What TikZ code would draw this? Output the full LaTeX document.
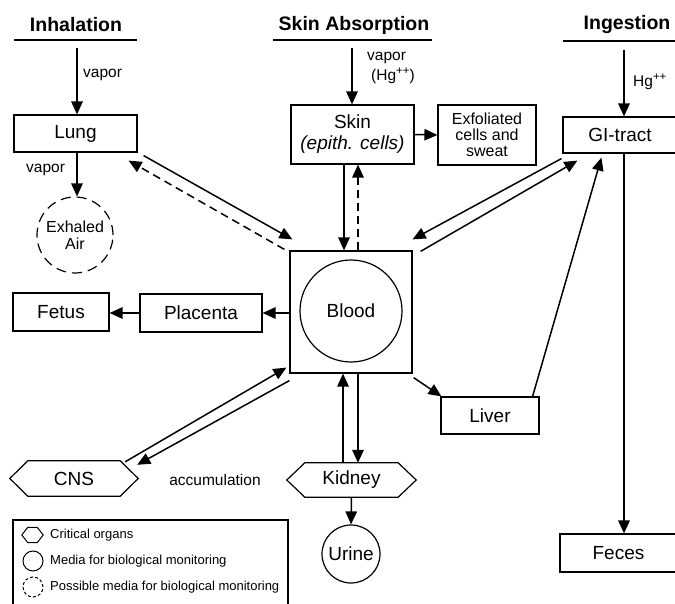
\documentclass[tikz,border=0pt]{standalone}
\usepackage{fontspec}
\setmainfont{Liberation Sans}
\usetikzlibrary{arrows.meta,calc}
\newcommand{\hgsup}{\raisebox{5.5pt}{\fontsize{11.5}{12}\selectfont ++}}
\begin{document}
\begin{tikzpicture}[x=1pt,y=-1pt,
  box/.style={draw, line width=1.2pt, inner sep=0pt, align=center, font=\fontsize{19}{21}\selectfont},
  plain/.style={inner sep=0pt, align=center, font=\fontsize{19}{21}\selectfont},
  ttl/.style={inner sep=0pt, font=\bfseries\fontsize{19.5}{22}\selectfont},
  lbl/.style={inner sep=0pt, font=\fontsize{15.5}{17}\selectfont},
  leg/.style={inner sep=0pt, anchor=west, font=\fontsize{13}{15}\selectfont},
  uline/.style={line width=1.4pt},
  outl/.style={line width=1.2pt},
  arr/.style={line width=1.5pt, -{Triangle[length=13pt,width=11.5pt]}},
  darr/.style={arr, dash pattern=on 8pt off 5pt}
]
\clip (0,0) rectangle (675,604);

% titles
\node[ttl] (tinh) at (76,25) {Inhalation};
\node[ttl] (tskin) at (354,25) {Skin Absorption};
\node[ttl] (ting) at (627,25) {Ingestion};
\draw[uline] (14,40) -- (137,40);
\draw[uline] (273,40) -- (432,40);
\draw[uline] (563,41) -- (676,41);
\coordinate (sinh) at (77,48);
\coordinate (sskin) at (352,48);
\coordinate (sing) at (624,50);

% boxes
\node[box, minimum width=123pt, minimum height=37pt] (lung) at (75.5,133.5) {Lung};
\node[box, minimum width=123pt, minimum height=59pt] (skin) at (352.5,134.5) {Skin\\\textit{(epith. cells)}};
\node[box, minimum width=98pt, minimum height=60pt, font=\fontsize{16}{16}\selectfont] (exf) at (487,135) {Exfoliated\\cells and\\sweat};
\node[box, minimum width=114pt, minimum height=36pt] (gi) at (620,135) {GI-tract};
\node[box, minimum width=122pt, minimum height=122pt] (blood) at (351,312) {};
\node[draw, outl, circle, minimum size=102pt, inner sep=0pt, font=\fontsize{19}{21}\selectfont] (bc) at (351,311) {Blood};
\node[box, minimum width=122pt, minimum height=38pt] (plac) at (201,313) {Placenta};
\node[box, minimum width=96pt, minimum height=38pt] (fetus) at (61,312) {Fetus};
\node[box, minimum width=98pt, minimum height=37pt] (liver) at (490,415.5) {Liver};
\node[box, minimum width=117pt, minimum height=38pt] (feces) at (618.5,553) {Feces};
\node[draw, outl, dash pattern=on 10pt off 6pt, circle, minimum size=76pt, inner sep=0pt, align=center, font=\fontsize{16}{17}\selectfont] (exh) at (75,235) {Exhaled\\Air};
\node[draw, outl, circle, minimum size=58pt, inner sep=0pt, font=\fontsize{19}{21}\selectfont] (urine) at (351,554) {Urine};

% hexagons
\node[plain, minimum width=128pt, minimum height=35pt] (cns) at (74,478.5) {CNS};
\draw[outl] (cns.west) -- ([xshift=18pt]cns.north west) -- ([xshift=-18pt]cns.north east) -- (cns.east) -- ([xshift=-18pt]cns.south east) -- ([xshift=18pt]cns.south west) -- cycle;
\node[plain, minimum width=129pt, minimum height=34pt] (kid) at (351.5,480) {Kidney};
\draw[outl] (kid.west) -- ([xshift=18pt]kid.north west) -- ([xshift=-18pt]kid.north east) -- (kid.east) -- ([xshift=-18pt]kid.south east) -- ([xshift=18pt]kid.south west) -- cycle;

% labels
\node[lbl, anchor=west] (v1) at (83,75) {vapor};
\node[lbl, anchor=west] (v2) at (26,170) {vapor};
\node[lbl, anchor=west] (v3) at (367,58) {vapor};
\node[lbl, anchor=west] (v4) at (371,76) {(Hg\hgsup)};
\node[lbl, anchor=west] (v5) at (633,82) {Hg\hgsup};
\node[lbl] (acc) at (215,480) {accumulation};

% arrows
\draw[arr] (sinh) -- (sinh |- lung.north);
\draw[arr] (lung.south -| sinh) -- (exh.north -| sinh);
\draw[arr] (sskin) -- (sskin |- skin.north);
\draw[arr] (sing) -- (sing |- gi.north);
\draw[arr] (skin.east) -- (exf.west);
\draw[arr] ([xshift=-8.5pt]skin.south) -- ([xshift=-7pt]blood.north);
\draw[darr] ([xshift=7pt]blood.north) -- ([xshift=5.5pt]skin.south);
\draw[arr] ([shift={(6,3)}]lung.south east) -- ([shift={(3,-11)}]blood.north west);
\draw[darr] ([shift={(-5,-1)}]blood.north west) -- ([shift={(-9,8)}]lung.south east);
\draw[arr] ([shift={(-1,5)}]gi.south west) -- ([shift={(0,-11)}]blood.north east);
\draw[arr] ([shift={(8,1)}]blood.north east) -- ([shift={(15,7)}]gi.south west);
\draw[arr] ([shift={(-7,0)}]liver.north east) -- ([shift={(39,4)}]gi.south west);
\draw[arr] ([shift={(1,4)}]blood.south east) -- ([shift={(1,0)}]liver.north west);
\draw[arr] (gi.south -| sing) -- (feces.north -| sing);
\draw[arr] (blood.west |- plac) -- (plac.east);
\draw[arr] (plac.west) -- (plac.west -| fetus.east);
\draw[arr] ([shift={(-13,1)}]cns.north east) -- ([shift={(-3,-6)}]blood.south west);
\draw[arr] ([shift={(0,7)}]blood.south west) -- ([shift={(-1,4)}]cns.north east);
\draw[arr] ([xshift=-8.5pt]kid.north) -- ([xshift=-8pt]blood.south);
\draw[arr] ([xshift=7pt]blood.south) -- ([xshift=6.5pt]kid.north);
\draw[arr] (kid.south) -- (urine.north);

% legend
\node[draw, outl, minimum width=275pt, minimum height=100pt, inner sep=0pt] (legbox) at (150.5,570) {};
\node[minimum width=21pt, minimum height=15pt, inner sep=0pt] (lh) at (32.5,535) {};
\draw[line width=1pt] (lh.west) -- ([xshift=6pt]lh.north west) -- ([xshift=-6pt]lh.north east) -- (lh.east) -- ([xshift=-6pt]lh.south east) -- ([xshift=6pt]lh.south west) -- cycle;
\node[draw, line width=1pt, circle, minimum size=20pt, inner sep=0pt] (lc) at (33,561) {};
\node[draw, line width=1pt, dash pattern=on 3pt off 2.2pt, circle, minimum size=20pt, inner sep=0pt] (ld) at (33,587) {};
\node[leg] (t1) at (50,535) {Critical organs};
\node[leg] (t2) at (50,561) {Media for biological monitoring};
\node[leg] (t3) at (50,587) {Possible media for biological monitoring};
\end{tikzpicture}
\end{document}
